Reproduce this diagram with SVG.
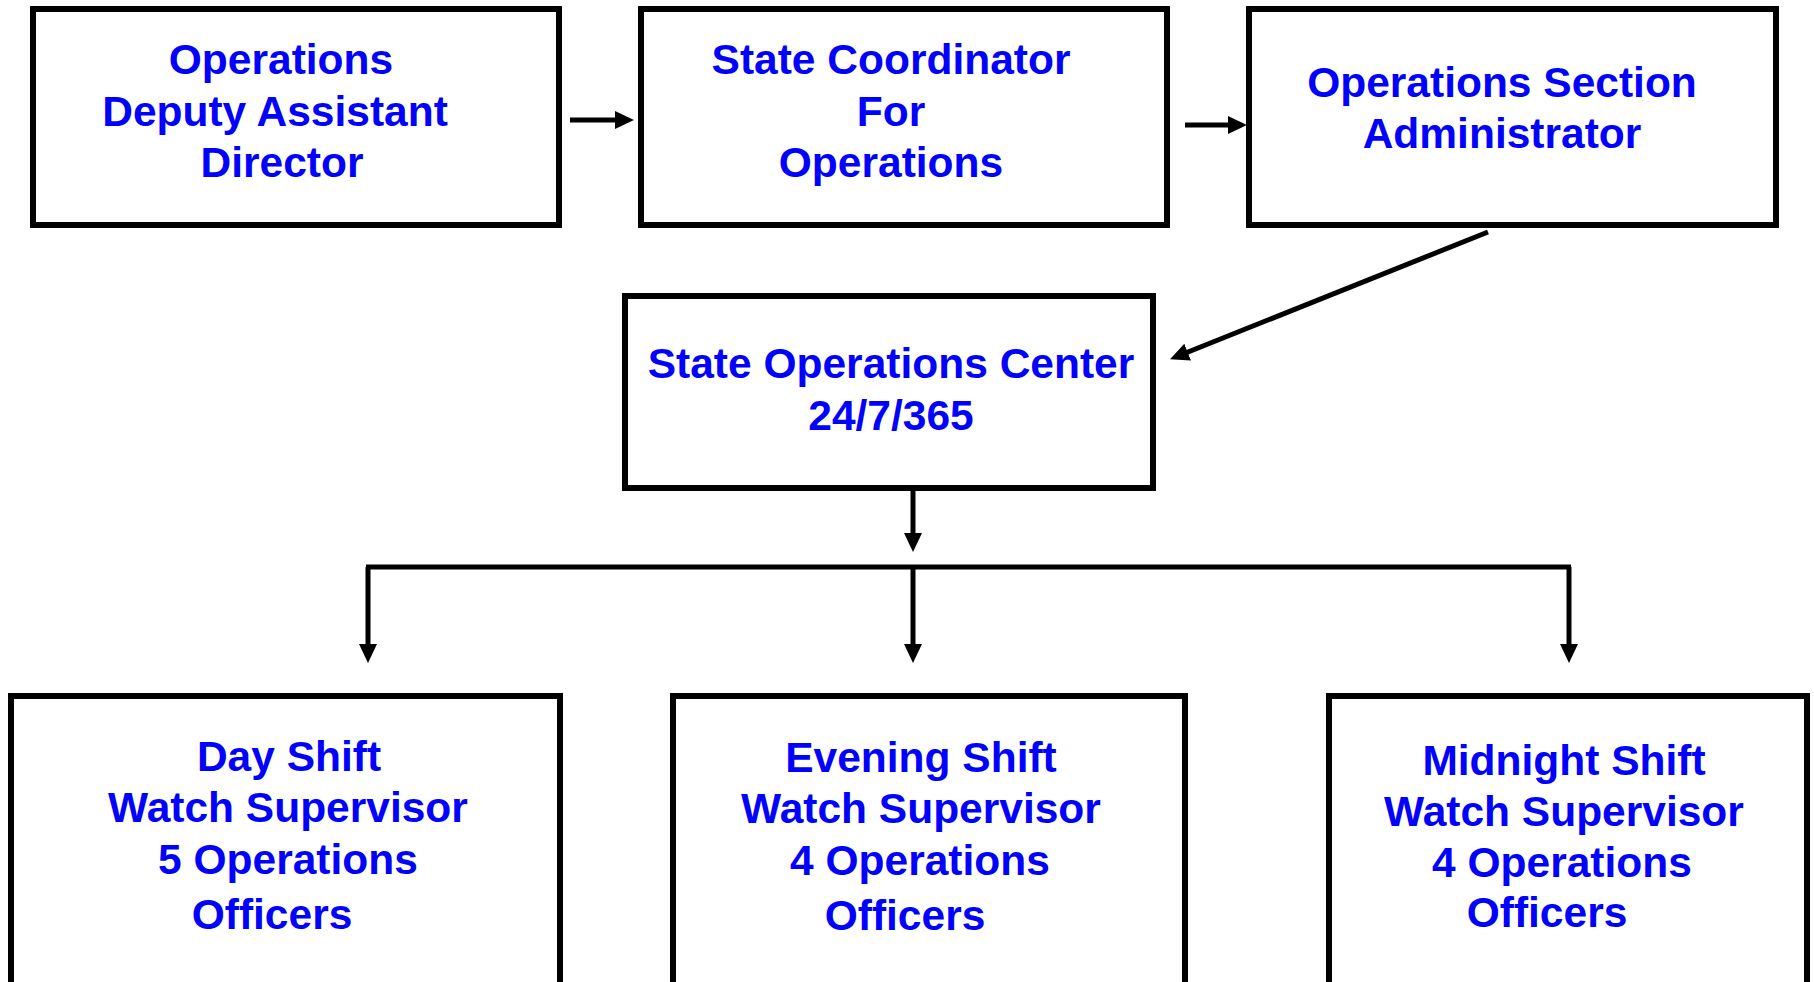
<svg xmlns="http://www.w3.org/2000/svg" width="1814" height="982" viewBox="0 0 1814 982">
<defs>
<marker id="ah" markerUnits="userSpaceOnUse" markerWidth="19" markerHeight="18" viewBox="0 0 19 18" refX="5" refY="9" orient="auto">
<path d="M0,0 L19,9 L0,18 z" fill="#000"/>
</marker>
<style>
.box{fill:#fff;stroke:#000;stroke-width:6}
.t{font-family:"Liberation Sans",Arial,sans-serif;font-weight:bold;font-size:42.5px;fill:#0000FF;text-anchor:middle}
.c{stroke:#000;stroke-width:5;fill:none}
.a{marker-end:url(#ah)}
</style>
</defs>
<rect width="1814" height="982" fill="#fff"/>
<g id="n1"><rect class="box" x="33" y="9" width="526" height="216"/>
<text class="t" x="281" y="74">Operations</text>
<text class="t" x="275" y="126">Deputy Assistant</text>
<text class="t" x="282" y="177">Director</text></g>
<g id="n2"><rect class="box" x="641" y="9" width="526" height="216"/>
<text class="t" x="891" y="74">State Coordinator</text>
<text class="t" x="891" y="126">For</text>
<text class="t" x="891" y="177">Operations</text></g>
<g id="n3"><rect class="box" x="1249" y="9" width="527" height="216"/>
<text class="t" x="1502" y="97">Operations Section</text>
<text class="t" x="1502" y="148">Administrator</text></g>
<g id="n4"><rect class="box" x="625" y="296" width="528" height="192"/>
<text class="t" x="891" y="378">State Operations Center</text>
<text class="t" x="891" y="430">24/7/365</text></g>
<g id="n5"><rect class="box" x="11" y="696" width="549" height="330"/>
<text class="t" x="289" y="771">Day Shift</text>
<text class="t" x="288" y="822">Watch Supervisor</text>
<text class="t" x="288" y="874">5 Operations</text>
<text class="t" x="272" y="929">Officers</text></g>
<g id="n6"><rect class="box" x="673" y="696" width="512" height="330"/>
<text class="t" x="921" y="772">Evening Shift</text>
<text class="t" x="921" y="823">Watch Supervisor</text>
<text class="t" x="920" y="875">4 Operations</text>
<text class="t" x="905" y="930">Officers</text></g>
<g id="n7"><rect class="box" x="1329" y="696" width="478" height="330"/>
<text class="t" x="1564" y="775">Midnight Shift</text>
<text class="t" x="1564" y="826">Watch Supervisor</text>
<text class="t" x="1562" y="877">4 Operations</text>
<text class="t" x="1547" y="927">Officers</text></g>
<g id="connectors">
<line class="c a" x1="570" y1="120" x2="620" y2="120"/>
<line class="c a" x1="1185" y1="125" x2="1233" y2="125"/>
<line class="c a" x1="1488" y1="232" x2="1183" y2="354"/>
<line class="c a" x1="913" y1="488" x2="913" y2="538"/>
<line class="c" x1="366" y1="567" x2="1571" y2="567"/>
<line class="c a" x1="368" y1="567" x2="368" y2="649"/>
<line class="c a" x1="913" y1="567" x2="913" y2="649"/>
<line class="c a" x1="1569" y1="567" x2="1569" y2="649"/>
</g>
</svg>
